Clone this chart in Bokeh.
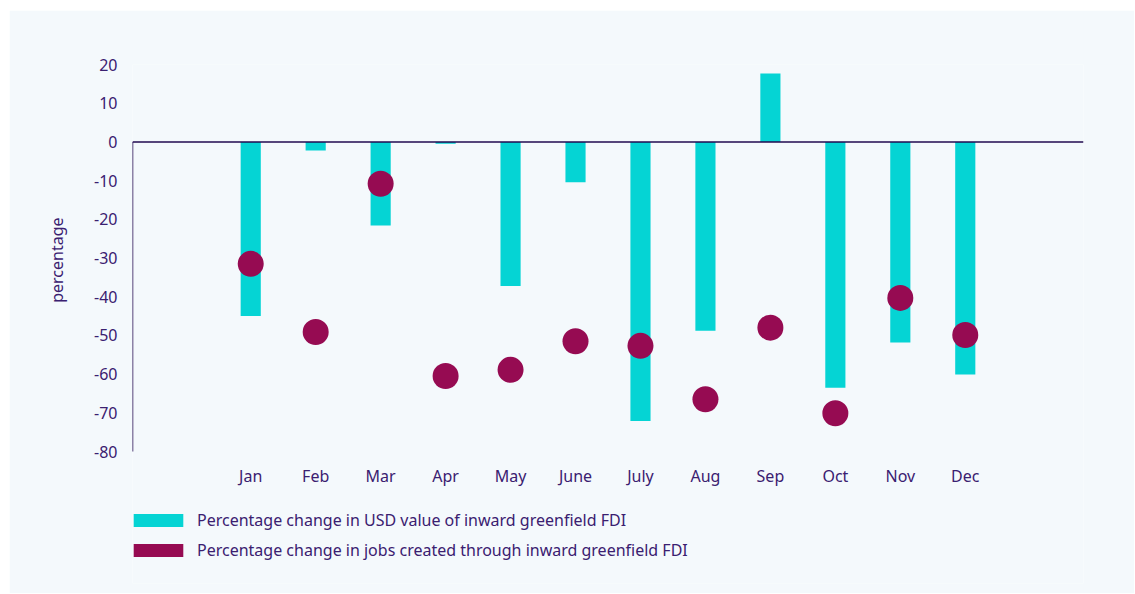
from bokeh.plotting import figure
from bokeh.models import (FactorRange, Range1d, FixedTicker, Span,
                          Legend, LegendItem, Title)
from bokeh.core.properties import value
from bokeh.embed import file_html
from bokeh.resources import INLINE

months = ["Jan", "Feb", "Mar", "Apr", "May", "June", "July", "Aug", "Sep", "Oct", "Nov", "Dec"]
usd_value_change = [-45.0, -2.2, -21.6, -0.5, -37.2, -10.4, -72.1, -48.8, 17.7, -63.5, -51.8, -60.1]
jobs_change = [-31.5, -49.1, -10.8, -60.5, -58.9, -51.5, -52.7, -66.5, -48.0, -70.1, -40.3, -49.9]
y_ticks = [20, 10, 0, -10, -20, -30, -40, -50, -60, -70, -80]
y_label = "percentage"
series_labels = ["Percentage change in USD value of inward greenfield FDI",
                 "Percentage change in jobs created through inward greenfield FDI"]

CYAN = "#05D4D4"
MAROON = "#960B52"
TEXT = "#3A2070"
LINE = "#220A50"
BG = "#F4F9FC"
FONT = "Noto Sans"
PAD = 0.22
Y_MIN, Y_MAX = -80, 20
# the frame extends below the axis so that the month labels and the legend sit inside it
Y_FRAME_BOTTOM = -114.1

p = figure(width=1125, height=583,
           x_range=FactorRange(*months, range_padding=PAD),
           y_range=Range1d(Y_FRAME_BOTTOM, Y_MAX),
           output_backend="svg", toolbar_location=None,
           x_axis_location=None,
           min_border_left=123, min_border_right=51,
           min_border_top=54, min_border_bottom=10)
p.margin = (10, 0, 0, 9)
p.background_fill_color = BG
p.border_fill_color = BG
p.outline_line_color = None
p.xgrid.grid_line_color = None
p.ygrid.grid_line_color = None

ya = p.yaxis[0]
ya.ticker = FixedTicker(ticks=y_ticks)
ya.major_label_overrides = {t: str(t) for t in y_ticks}
ya.axis_line_color = None
ya.major_tick_line_color = None
ya.minor_tick_line_color = None
ya.major_tick_out = 0
ya.major_tick_in = 0
ya.major_label_standoff = 15
ya.major_label_text_font = FONT
ya.major_label_text_font_size = "16px"
ya.major_label_text_color = TEXT

ytitle = Title(text=y_label, align="right", offset=153, standoff=48,
               text_font=FONT, text_font_size="16px", text_font_style="normal",
               text_color=TEXT)
p.add_layout(ytitle, "left")

bars = p.vbar(x=months, top=usd_value_change, bottom=0, width=0.31,
              fill_color=CYAN, line_color=None)
dots = p.scatter(x=months, y=jobs_change, size=26, marker="circle",
                 fill_color=MAROON, line_color=None)
swatch = p.vbar(x=months[:1], top=[0], bottom=0, width=0.31, fill_color=MAROON, line_color=None)

# month labels under the bottom of the axis
p.text(x=months, y=[Y_MIN] * len(months), text=months, y_offset=24,
       text_align="center", text_baseline="middle",
       text_font=value(FONT), text_font_size="16px", text_color=TEXT)

# y axis line, drawn only from 0 down to the bottom of the axis, at the left frame edge
x_left = -len(months) * PAD / 2
p.segment(x0=[x_left], y0=[Y_MIN], x1=[x_left], y1=[0], line_color=LINE, line_width=1.5)

zero = Span(location=0, dimension="width", line_color=LINE, line_width=1.5)
p.add_layout(zero)

legend = Legend(items=[LegendItem(label=series_labels[0], renderers=[bars]),
                       LegendItem(label=series_labels[1], renderers=[swatch])],
                location=(-5, 22), orientation="vertical",
                glyph_width=62, glyph_height=16, label_standoff=8,
                label_height=22, spacing=8, padding=0, margin=0,
                border_line_color=None, background_fill_alpha=0,
                label_text_font=FONT, label_text_font_size="16px",
                label_text_color=TEXT)
p.add_layout(legend)

open("out.html", "w").write(file_html(p, INLINE))
